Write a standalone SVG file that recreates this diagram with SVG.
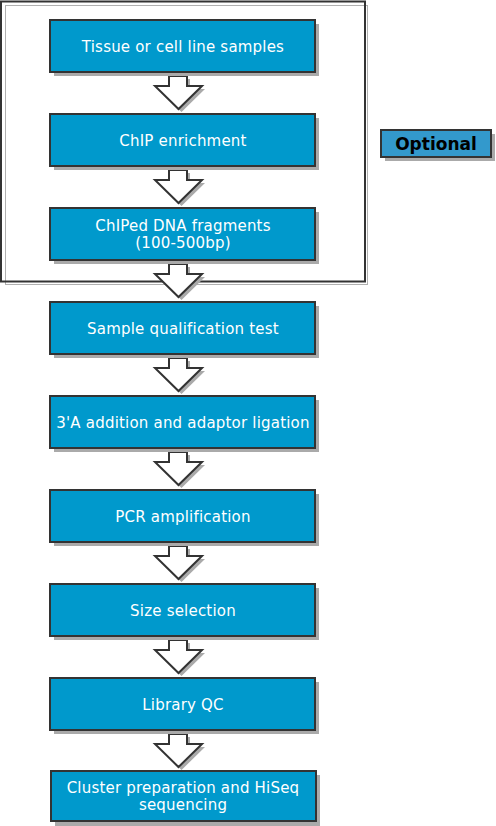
<svg xmlns="http://www.w3.org/2000/svg" width="496" height="826" viewBox="0 0 496 826">
<defs>
<style>
.box{fill:#0099cc;stroke:#333333;stroke-width:2}
.sh{fill:#aaaaaa}
.t{font-family:"DejaVu Sans",Verdana,sans-serif;font-size:15px;letter-spacing:0.2px;fill:#ffffff;text-anchor:middle}
.arr{fill:#ffffff;stroke:#333333;stroke-width:2;stroke-linejoin:miter}
.opt{fill:#3399cc;stroke:#333333;stroke-width:2}
.ot{font-family:"DejaVu Sans",Verdana,sans-serif;font-size:17px;font-weight:bold;fill:#000000;text-anchor:middle}
</style>
<path id="arrow" d="M169,4 H187 V14 H202 L178.5,37 L155,14 H169 Z"/>
</defs>
<rect width="496" height="826" fill="#ffffff"/>
<g id="optional-frame">
<rect x="5.5" y="5.5" width="362" height="279" fill="none" stroke="#b0b0b0" stroke-width="1"/>
<rect x="1" y="1.5" width="364" height="280" fill="none" stroke="#333333" stroke-width="2"/>
</g>
<g id="connectors">
<g transform="translate(0,72)"><use href="#arrow" class="sh" transform="translate(3,3)"/><use href="#arrow" class="arr"/></g>
<g transform="translate(0,166)"><use href="#arrow" class="sh" transform="translate(3,3)"/><use href="#arrow" class="arr"/></g>
<g transform="translate(0,260)"><use href="#arrow" class="sh" transform="translate(3,3)"/><use href="#arrow" class="arr"/></g>
<g transform="translate(0,354)"><use href="#arrow" class="sh" transform="translate(3,3)"/><use href="#arrow" class="arr"/></g>
<g transform="translate(0,448)"><use href="#arrow" class="sh" transform="translate(3,3)"/><use href="#arrow" class="arr"/></g>
<g transform="translate(0,542)"><use href="#arrow" class="sh" transform="translate(3,3)"/><use href="#arrow" class="arr"/></g>
<g transform="translate(0,636)"><use href="#arrow" class="sh" transform="translate(3,3)"/><use href="#arrow" class="arr"/></g>
<g transform="translate(0,730)"><use href="#arrow" class="sh" transform="translate(3,3)"/><use href="#arrow" class="arr"/></g>
</g>
<g id="n1"><rect class="sh" x="54" y="24" width="265" height="52"/><rect class="box" x="50" y="20" width="265" height="52"/><text class="t" x="183" y="52">Tissue or cell line samples</text></g>
<g id="n2"><rect class="sh" x="54" y="118" width="265" height="52"/><rect class="box" x="50" y="114" width="265" height="52"/><text class="t" x="183" y="146">ChIP enrichment</text></g>
<g id="n3"><rect class="sh" x="54" y="212" width="265" height="52"/><rect class="box" x="50" y="208" width="265" height="52"/><text class="t" x="183" y="231">ChIPed DNA fragments</text><text class="t" x="183" y="248">(100-500bp)</text></g>
<g id="n4"><rect class="sh" x="54" y="306" width="265" height="52"/><rect class="box" x="50" y="302" width="265" height="52"/><text class="t" x="183" y="334">Sample qualification test</text></g>
<g id="n5"><rect class="sh" x="54" y="400" width="265" height="52"/><rect class="box" x="50" y="396" width="265" height="52"/><text class="t" x="183" y="428">3'A addition and adaptor ligation</text></g>
<g id="n6"><rect class="sh" x="54" y="494" width="265" height="52"/><rect class="box" x="50" y="490" width="265" height="52"/><text class="t" x="183" y="522">PCR amplification</text></g>
<g id="n7"><rect class="sh" x="54" y="588" width="265" height="52"/><rect class="box" x="50" y="584" width="265" height="52"/><text class="t" x="183" y="616">Size selection</text></g>
<g id="n8"><rect class="sh" x="54" y="682" width="265" height="52"/><rect class="box" x="50" y="678" width="265" height="52"/><text class="t" x="183" y="710">Library QC</text></g>
<g id="n9"><rect class="sh" x="55" y="775" width="265" height="51"/><rect class="box" x="51" y="771" width="265" height="50"/><text class="t" x="183" y="793">Cluster preparation and HiSeq</text><text class="t" x="183" y="810">sequencing</text></g>
<g id="optional"><rect class="sh" x="385" y="134" width="110" height="27"/><rect class="opt" x="381" y="130" width="110" height="27"/><text class="ot" x="436" y="150">Optional</text></g>
</svg>
